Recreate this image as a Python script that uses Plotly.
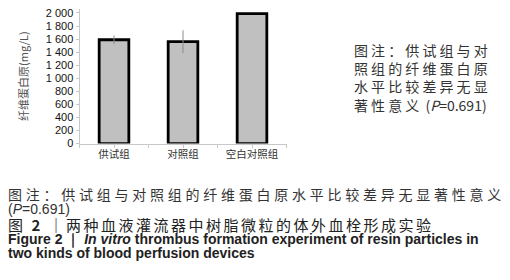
import plotly.graph_objects as go

categories = ["供试组", "对照组", "空白对照组"]
values = [1590, 1560, 1990]
errors = [65, 175, 0]
y_tickvals = [0, 200, 400, 600, 800, 1000, 1200, 1400, 1600, 1800, 2000]
y_ticktext = ["0", "200", "400", "600", "800", "1 000", "1 200", "1 400", "1 600", "1 800", "2 000"]

xpos = list(range(len(categories)))

fig = go.Figure()
fig.add_trace(go.Bar(
    x=xpos, y=values, width=0.43,
    marker=dict(color="#c0c0c0", line=dict(color="#000000", width=2.8)),
    error_y=dict(type="data", array=errors, color="#8c8c8c", thickness=1, width=0),
))

W, H = 510, 280
x0, x1 = 79.5, 286.5
y0px, ytop = 145.7, 7.0
y2000 = 11.3
ymax = 2000 * (y0px - ytop) / (y0px - y2000)

fig.update_layout(
    width=W, height=H, margin=dict(l=0, r=0, t=0, b=0),
    paper_bgcolor="white", plot_bgcolor="white", showlegend=False,
    font=dict(family="Liberation Sans, Noto Sans CJK SC", color="#222"),
    xaxis=dict(domain=[x0 / W, x1 / W], range=[-0.5, 2.5],
               tickvals=xpos, ticktext=categories,
               showline=True, linecolor="#c8c8c8", linewidth=1,
               ticks="outside", ticklen=3, tickcolor="#c8c8c8",
               ticklabelstandoff=-2,
               minor=dict(dtick=1, tick0=0.5, ticks="outside", ticklen=3, tickcolor="#c8c8c8"),
               tickfont=dict(size=10.5, color="#333", family="Noto Sans CJK SC"),
               showgrid=False, zeroline=False, fixedrange=True),
    yaxis=dict(domain=[1 - y0px / H, 1 - ytop / H], range=[0, ymax],
               tickvals=y_tickvals, ticktext=y_ticktext,
               showline=True, linecolor="#c8c8c8", linewidth=1,
               ticks="outside", ticklen=3, tickcolor="#c8c8c8",
               tickfont=dict(size=11, color="#111", family="Liberation Sans"),
               showgrid=False, zeroline=False, fixedrange=True,
               title=dict(text="纤维蛋白原(mg/L)", standoff=14,
                          font=dict(size=11, color="#555", family="Noto Sans CJK SC"))),
)


def sp(text, spacing):
    return '<span style="letter-spacing:%spx">%s</span>' % (spacing, text)


def note(text, x, yc, size, color, family):
    fig.add_annotation(
        xref="paper", yref="paper", x=x / W, y=1 - yc / H, xanchor="left", yanchor="middle",
        align="left", showarrow=False, text=text,
        font=dict(size=size, color=color, family=family),
    )


# right-hand note (one block, line pitch = 1.3 * 14)
right_text = "<br>".join([
    sp("图注：供试组与对", 3.1),
    sp("照组的纤维蛋白原", 3.1),
    sp("水平比较差异无显", 3.1),
    sp("著性意义", 3.1) + " (<i>P</i>=0.691)",
])
fig.add_annotation(
    xref="paper", yref="paper", x=352 / W, y=1 - 37.5 / H, xanchor="left", yanchor="top",
    align="left", showarrow=False, text=right_text,
    font=dict(size=14, color="#333", family="Noto Sans CJK SC"),
)

# caption lines
note(sp("图注：供试组与对照组的纤维蛋白原水平比较差异无显著性意义", 3.75), 6, 198, 14, "#333",
     "Noto Sans CJK SC")
note("(<i>P</i>=0.691)", 6, 213, 14, "#333", "Liberation Sans")
note(sp("图 <b>2</b> ｜两种血液灌流器中树脂微粒的体外血栓形成实验", 2.5), 6, 229.5, 15, "#222",
     "Noto Sans CJK SC")
note("<b>Figure 2 ｜ <i>In vitro</i> thrombus formation experiment of resin particles in</b>",
     6, 244.5, 14, "#222", "Liberation Sans")
note("<b>two kinds of blood perfusion devices</b>", 6, 258, 14, "#222", "Liberation Sans")

fig.write_html("out.html", post_script="document.body.style.margin='0';",
               config={"displayModeBar": False})
